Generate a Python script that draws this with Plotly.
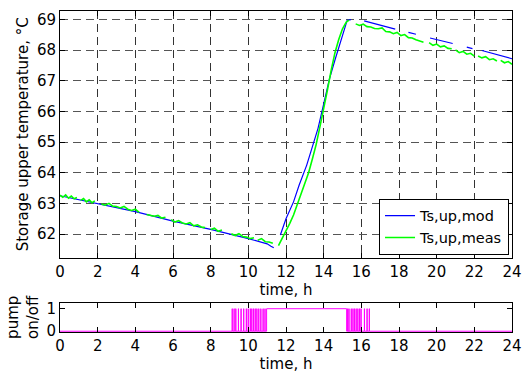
import plotly.graph_objects as go

# ---- data ----
# model storage upper temperature (blue), None = gap
t_mod = [0, 2, 4, 6, 8, 10, 11.0, 11.2, 11.35, 11.5, 11.7, 12.0, 12.4, 12.7, 13.1,
         13.4, 13.7, 14.06, 14.3, 14.6, 14.95, 15.25, 15.45, 15.8, 16.15, 17.8,
         18.15, 18.5, 18.9, 19.3, 19.65, 20.85, 21.2, 21.6, 21.9, 22.1, 22.4, 24.0]
T_mod = [63.25, 63.0, 62.73, 62.42, 62.15, 61.85, 61.68, 61.60, 61.55, None, 61.97,
         62.5, 63.05, 63.6, 64.25, 64.88, 65.45, 66.4, 67.05, 67.68, 68.37, 68.98,
         69.0, None, 68.96, 68.69, None, 68.58, 68.52, None, 68.40, 68.22, None,
         68.10, 68.05, None, 67.99, 67.72]

# measured storage upper temperature (green), None = gap
t_meas = [0, 0.15, 0.3, 0.45, 0.6, 0.75, 0.9, 1.0,
          1.1, 1.25, 1.4, 1.55, 1.7, 1.85, 2.05,
          2.2, 2.4, 2.6, 2.8, 3.0, 3.2, 3.4, 3.6, 3.8, 4.0, 4.2, 4.45,
          4.6, 4.8, 5.0, 5.2, 5.4, 5.6, 5.78,
          5.9, 6.1, 6.3, 6.5, 6.7, 6.9, 7.1, 7.3, 7.5, 7.7, 7.9,
          8.0, 8.2, 8.4, 8.6, 8.85,
          9.1, 9.3, 9.5, 9.7, 9.9, 10.1, 10.3, 10.4,
          10.5, 10.7, 10.9, 11.1, 11.3, 11.5,
          11.6, 11.8, 12.0, 12.2, 12.4, 12.6, 12.8, 13.0, 13.2, 13.4, 13.6, 13.8,
          14.0, 14.2, 14.4, 14.6, 14.8, 15.0, 15.2, 15.35, 15.5,
          15.7, 15.9, 16.1, 16.3, 16.5, 16.7, 16.9, 17.1, 17.3, 17.5, 17.7, 17.9,
          18.1, 18.3, 18.5, 18.7, 18.9, 19.1, 19.3, 19.45,
          19.6, 19.8, 20.0, 20.2, 20.4, 20.6, 20.8, 20.9,
          21.0, 21.2, 21.4, 21.6, 21.8, 22.0, 22.1,
          22.2, 22.4, 22.6, 22.8, 23.0, 23.2, 23.3,
          23.4, 23.6, 23.8, 24.0]
T_meas = [63.27, 63.20, 63.28, 63.17, 63.24, 63.15, 63.19, None,
          63.10, 63.16, 63.05, 63.12, 63.02, 63.08, None,
          62.98, 62.94, 63.00, 62.91, 62.90, 62.85, 62.90, 62.81, 62.77, 62.81, 62.71, None,
          62.64, 62.60, 62.58, 62.61, 62.52, 62.55, None,
          62.47, 62.39, 62.44, 62.36, 62.33, 62.37, 62.27, 62.30, 62.23, 62.21, None,
          62.15, 62.19, 62.09, 62.13, None,
          62.01, 61.95, 62.01, 61.92, 61.90, 61.85, 61.88, None,
          61.80, 61.85, 61.75, 61.74, 61.70, None,
          61.62, 61.85, 62.10, 62.35, 62.62, 62.95, 63.30, 63.62, 64.00, 64.45, 64.92, 65.50,
          66.05, 66.70, 67.35, 67.92, 68.35, 68.70, 68.92, 68.98, None,
          68.86, 68.81, 68.85, 68.77, 68.76, 68.71, 68.70, 68.73, 68.61, 68.60, 68.54, 68.58,
          68.48, 68.51, 68.41, 68.40, 68.34, 68.30, 68.26, None,
          68.25, 68.16, 68.20, 68.11, 68.14, 68.06, 68.05, None,
          68.01, 67.92, 67.96, 67.87, 67.90, 67.81, None,
          67.81, 67.75, 67.79, 67.69, 67.72, 67.65, None,
          67.67, 67.59, 67.63, 67.54]

# pump on/off switching times, h
pump_on = [9.14, 9.24, 9.33, 9.47, 9.61, 9.75, 9.89, 9.99, 10.10, 10.18, 10.27, 10.36,
           10.45, 10.55, 10.66, 10.78, 10.88, 10.97,
           15.27, 15.34, 15.46, 15.55, 15.63, 15.72, 15.81, 15.90, 15.98, 16.16, 16.30, 16.42]
pump_off = [9.15, 9.25, 9.34, 9.48, 9.62, 9.76, 9.90, 10.00, 10.11, 10.19, 10.28, 10.37,
            10.46, 10.56, 10.67, 10.79, 10.89, 15.22,
            15.28, 15.35, 15.47, 15.56, 15.64, 15.73, 15.82, 15.91, 15.99, 16.17, 16.31, 16.43]

x_ticks = list(range(0, 25, 2))
y_ticks = list(range(62, 70))

# ---- pump step signal built from the switching times ----
t_p, s_p = [0], [0]
for a, b in zip(pump_on, pump_off):
    t_p += [a, a, b, b]
    s_p += [0, 1, 1, 0]
t_p.append(24)
s_p.append(0)

FONT = "DejaVu Sans"
FS = 15

fig = go.Figure()
fig.add_trace(go.Scatter(x=t_mod, y=T_mod, mode="lines", name="Ts,up,mod",
                         line=dict(color="#0000FF", width=1.2), xaxis="x", yaxis="y"))
fig.add_trace(go.Scatter(x=t_meas, y=T_meas, mode="lines", name="Ts,up,meas",
                         line=dict(color="#00FF00", width=1.6), xaxis="x", yaxis="y"))
fig.add_trace(go.Scatter(x=t_p, y=s_p, mode="lines", showlegend=False,
                         line=dict(color="#FF00FF", width=1), xaxis="x2", yaxis="y2"))

axis_common = dict(showline=True, linecolor="black", linewidth=1, mirror="ticks",
                   ticks="inside", ticklen=5, tickcolor="black", zeroline=False,
                   tickfont=dict(family=FONT, size=FS, color="black"))

fig.update_layout(
    width=530, height=374,
    margin=dict(l=60, r=12, t=8, b=38),
    paper_bgcolor="white", plot_bgcolor="white",
    font=dict(family=FONT, size=FS, color="black"),
    xaxis=dict(domain=[0, 1], anchor="y", range=[0, 24], tickvals=x_ticks,
               showgrid=True, gridcolor="#333333", griddash="8px,5px", gridwidth=1,
               title=dict(text="time, h", standoff=0, font=dict(family=FONT, size=FS)),
               **axis_common),
    yaxis=dict(domain=[0.2317, 1], anchor="x", range=[61.23, 69.28], tickvals=y_ticks,
               showgrid=True, gridcolor="#555555", griddash="8px,5px", gridwidth=1,
               title=dict(text="Storage upper temperature, °C", standoff=4,
                          font=dict(family=FONT, size=FS)),
               **axis_common),
    xaxis2=dict(domain=[0, 1], anchor="y2", range=[0, 24], tickvals=x_ticks,
                showgrid=False,
                title=dict(text="time, h", standoff=0, font=dict(family=FONT, size=FS)),
                **axis_common),
    yaxis2=dict(domain=[0, 0.0915], anchor="x2", range=[-0.035, 1.27], tickvals=[0, 1],
                showgrid=False,
                title=dict(text="pump<br>on/off", standoff=4, font=dict(family=FONT, size=FS)),
                **axis_common),
    legend=dict(x=0.9934, xanchor="right", y=0.2409, yanchor="bottom",
                bgcolor="white", bordercolor="black", borderwidth=1,
                font=dict(family=FONT, size=14.5), tracegroupgap=0,
                itemwidth=30),
)

fig.write_html("out.html", config={"displayModeBar": False},
               post_script="document.body.style.margin='0';document.body.style.overflow='hidden';")
